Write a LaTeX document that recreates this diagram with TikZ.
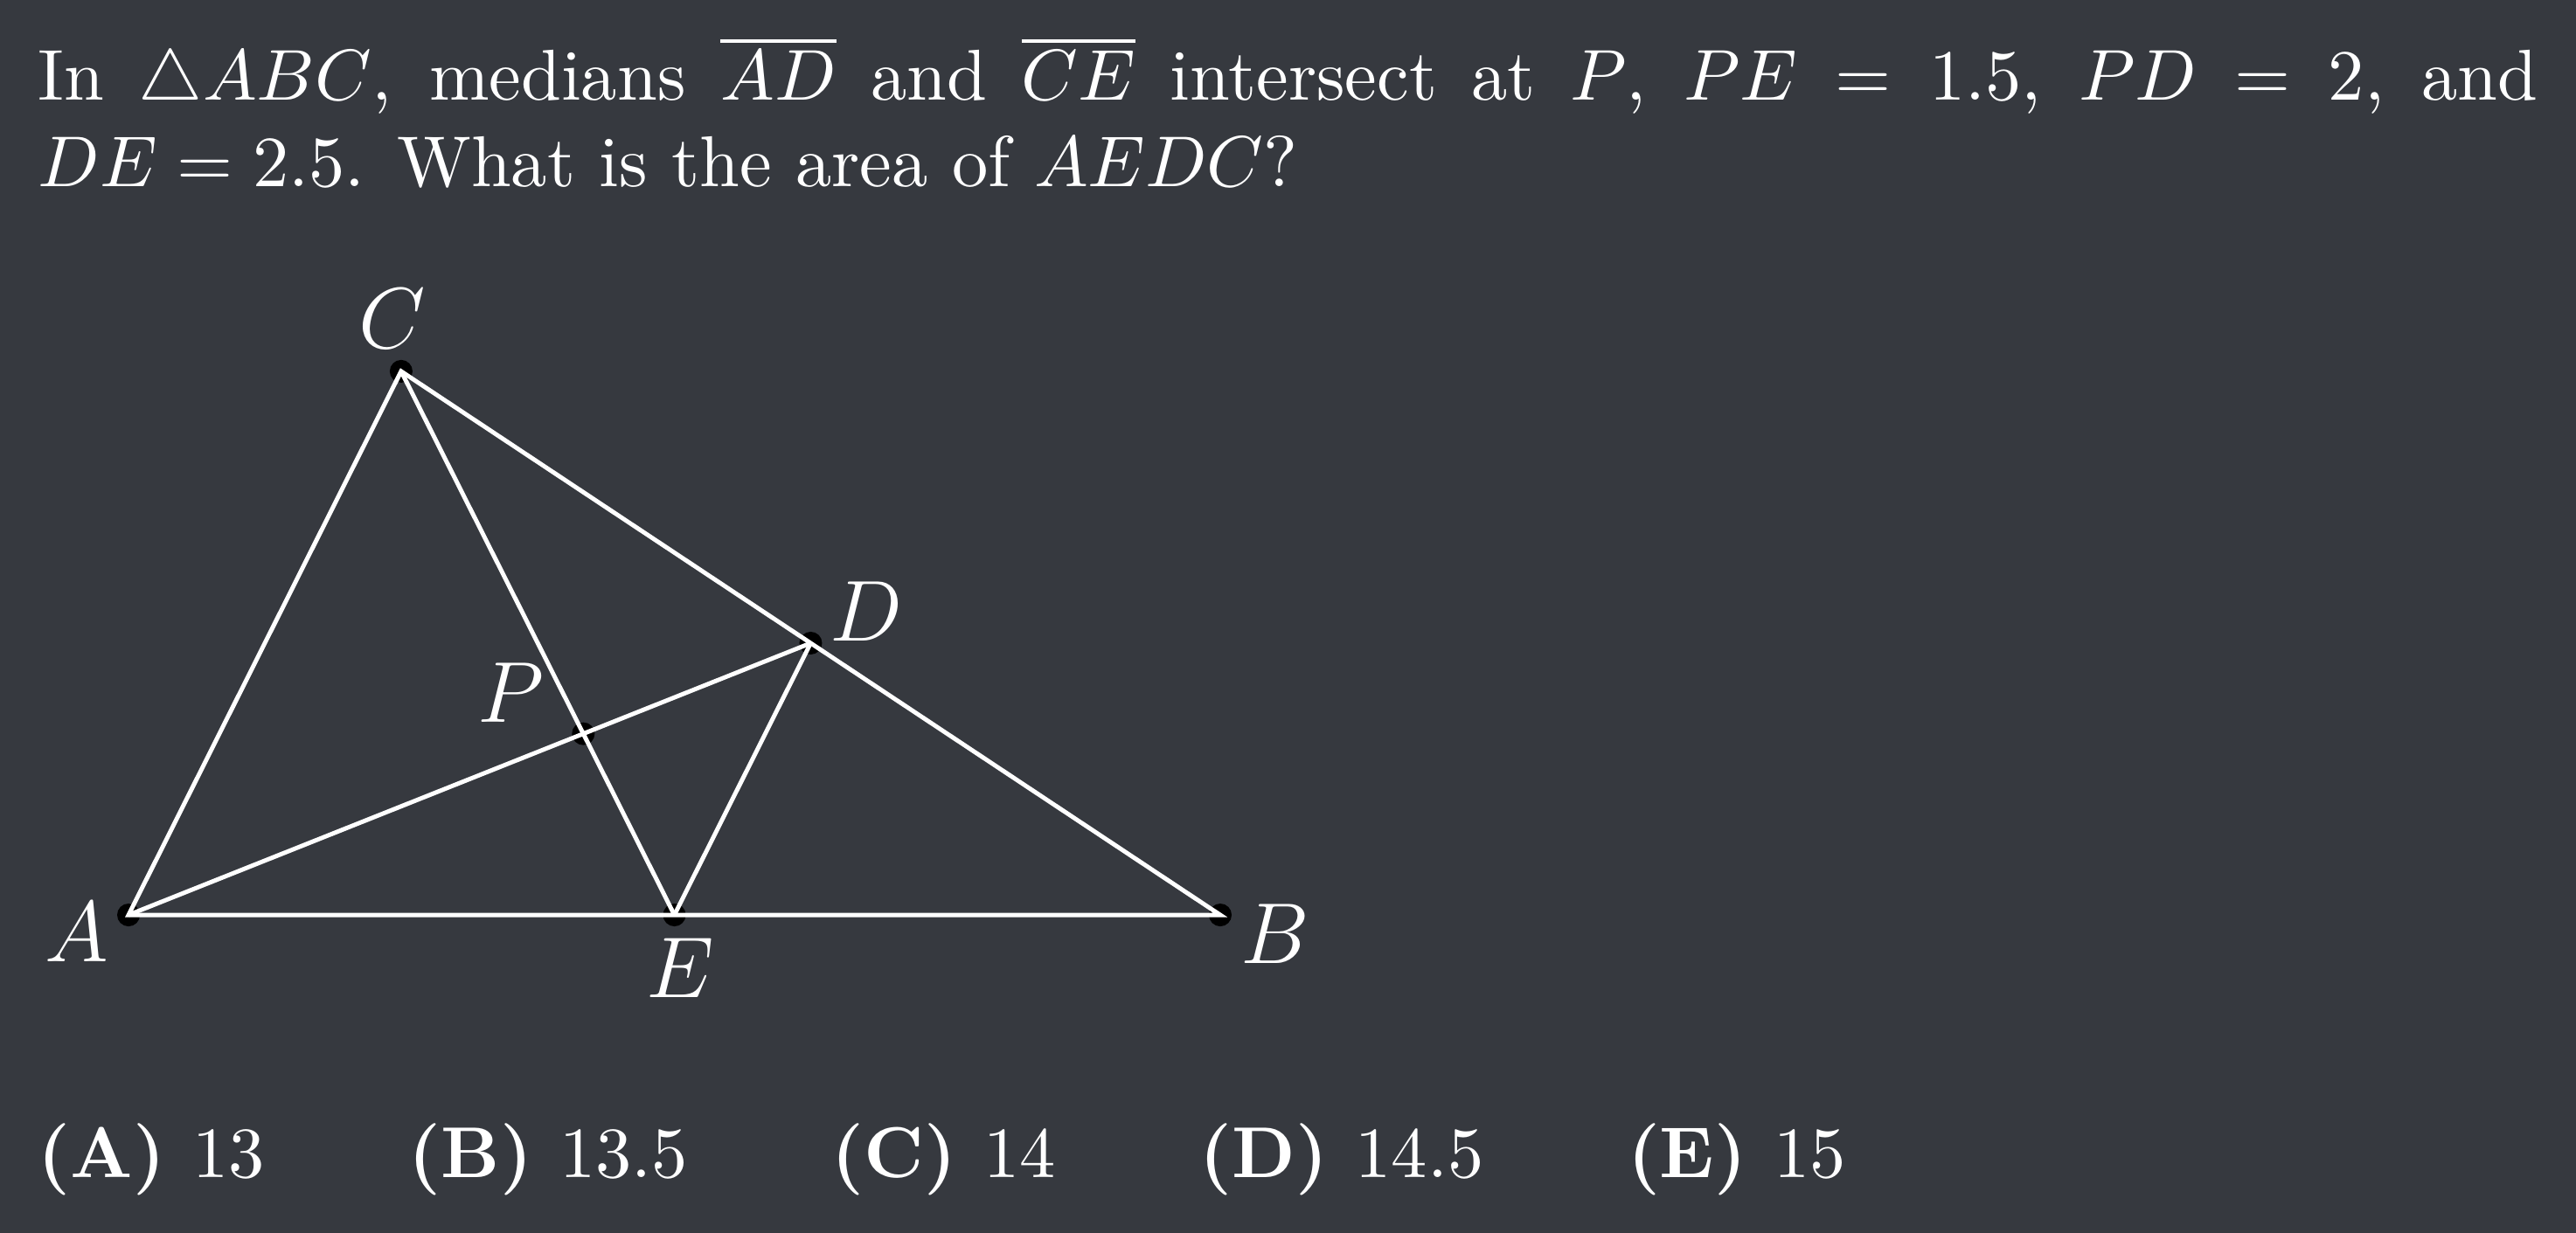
\documentclass[tikz,border=0pt]{standalone}
\usepackage{amsmath,amssymb}
\usetikzlibrary{calc}
\definecolor{bgdark}{RGB}{54,57,63}

\begin{document}
\begin{tikzpicture}[font=\normalsize, color=white,
    seg/.style={draw=white, line width=0.6pt},
    dot/.style={fill=black},
    lbl/.style={font=\large, inner sep=0pt}]
	\fill[bgdark] (0,0) rectangle (12.567,6.017);
	\useasboundingbox (0,0) rectangle (12.567,6.017);
	\node[anchor=base west, text width=12.196cm, align=justify, inner sep=0pt] (question) at (.179,5.527)
	  {In $\triangle ABC$, medians $\overline{AD}$ and $\overline{CE}$ intersect at $P$, $PE=1.5$, $PD=2$, and $DE=2.5$. What is the area of $AEDC$?};
	\coordinate (A) at (.627,1.552);
	\coordinate (B) at (5.953,1.552);
	\coordinate (C) at (1.957,4.205);
	\coordinate (D) at ($(B)!.5!(C)$);
	\coordinate (E) at ($(A)!.5!(B)$);
	\coordinate (P) at ($(C)!2/3!(E)$);
	\foreach \p in {A,B,C,D,E,P}
	  \fill[dot] (\p) circle (1.58pt);
	\draw[seg] (A) -- (B) -- (C) -- cycle;
	\draw[seg] (A) -- (D);
	\draw[seg] (C) -- (E);
	\draw[seg] (D) -- (E);
	\node[lbl] (labA) at ($(A)+(-.252,-.085)$) {$A$};
	\node[lbl] (labB) at ($(B)+(.269,-.094)$) {$B$};
	\node[lbl] (labC) at ($(C)+(-.043,.256)$) {$C$};
	\node[lbl] (labD) at ($(D)+(.273,.154)$) {$D$};
	\node[lbl] (labE) at ($(E)+(.03,-.26)$) {$E$};
	\node[lbl] (labP) at ($(P)+(-.354,.2)$) {$P$};
	\node[anchor=base west, inner sep=0pt] (choices) at (.179,.269)
	  {$\textbf{(A) }13\qquad\textbf{(B) }13.5\qquad\textbf{(C) }14\qquad\textbf{(D) }14.5\qquad\textbf{(E) }15$};
\end{tikzpicture}
\end{document}
